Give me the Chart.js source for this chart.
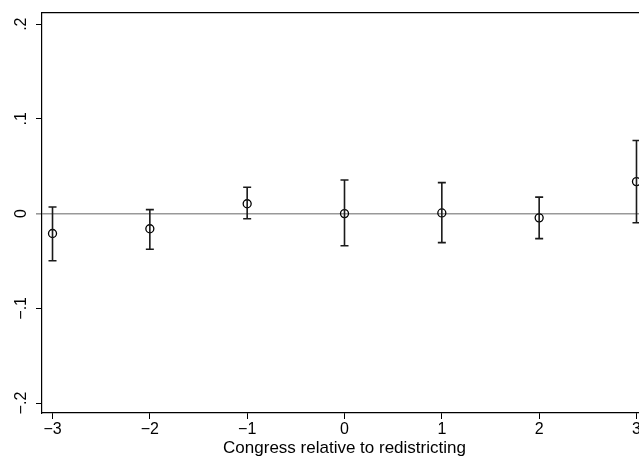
<!DOCTYPE html>
<html>
<head>
<meta charset="utf-8">
<script src="https://cdn.jsdelivr.net/npm/chart.js@4/dist/chart.umd.min.js"></script>
<style>
  html, body { margin: 0; padding: 0; background: #fff; overflow: hidden; }
  #wrap { width: 660px; height: 462px; }
</style>
</head>
<body>
<div id="wrap"><canvas id="chart" width="660" height="462"></canvas></div>
<script>
// --- values ---
const congress = [-3, -2, -1, 0, 1, 2, 3];
const estimate = [-0.021, -0.016, 0.0104, 0.000, 0.0007, -0.0045, 0.0338];
const lower    = [-0.0497, -0.0376, -0.0055, -0.034, -0.0306, -0.0264, -0.0097];
const upper    = [0.007, 0.0042, 0.0279, 0.0355, 0.0327, 0.0174, 0.0772];

const xTicks = [-3, -2, -1, 0, 1, 2, 3];
const xTickLabels = ["\u22123", "\u22122", "\u22121", "0", "1", "2", "3"];
const yTicks = [-0.2, -0.1, 0, 0.1, 0.2];
const yTickLabels = ["\u2212.2", "\u2212.1", "0", ".1", ".2"];

const tickFont = { family: "'Liberation Sans', Arial, sans-serif", size: 16 };
const titleFont = { family: "'Liberation Sans', Arial, sans-serif", size: 17 };

// one little line dataset per error bar, caps drawn as 'line' points
const barSets = congress.map((c, i) => ({
  type: "scatter",
  data: [{ x: c, y: lower[i] }, { x: c, y: upper[i] }],
  showLine: true,
  borderColor: "#1a1a1a",
  borderWidth: 1.6,
  pointStyle: "line",
  pointRadius: 4,
  pointBorderWidth: 1.6,
  pointBorderColor: "#1a1a1a"
}));

const pointSet = {
  type: "scatter",
  data: congress.map((c, i) => ({ x: c, y: estimate[i] })),
  pointStyle: "circle",
  pointRadius: 4,
  pointBorderWidth: 1.3,
  pointBorderColor: "#000",
  pointBackgroundColor: "rgba(0,0,0,0)"
};

new Chart(document.getElementById("chart"), {
  type: "scatter",
  data: { datasets: [...barSets, pointSet] },
  options: {
    responsive: false,
    animation: false,
    layout: { padding: { left: 0, top: 7, right: 13, bottom: 0 } },
    plugins: { legend: { display: false }, tooltip: { enabled: false } },
    scales: {
      x: {
        type: "linear",
        position: "bottom",
        min: -3.108,
        max: 3.108,
        afterBuildTicks: s => { s.ticks = xTicks.map(v => ({ value: v })); },
        afterFit: s => { s.height = 49; },
        border: { display: true, color: "#000", width: 1.2 },
        grid: { drawOnChartArea: false, drawTicks: true, tickLength: 6, tickColor: "#000", tickWidth: 1 },
        ticks: {
          color: "#000",
          font: tickFont,
          padding: 1,
          maxRotation: 0,
          callback: (v) => xTickLabels[xTicks.indexOf(v)]
        },
        title: {
          display: true,
          text: "Congress relative to redistricting",
          color: "#000",
          font: titleFont,
          padding: { top: 0, bottom: 3 }
        }
      },
      top: {
        type: "linear",
        position: "top",
        min: -3.108,
        max: 3.108,
        afterFit: s => { s.height = 0; },
        border: { display: true, color: "#000", width: 1.2 },
        grid: { display: false, drawTicks: false },
        ticks: { display: false }
      },
      y: {
        type: "linear",
        position: "left",
        min: -0.2105,
        max: 0.2122,
        afterBuildTicks: s => { s.ticks = yTicks.map(v => ({ value: v })); },
        afterFit: s => { s.width = 42; },
        border: { display: true, color: "#000", width: 1.2 },
        grid: {
          drawOnChartArea: true,
          drawTicks: true,
          tickLength: 6,
          color: c => (c.tick && c.tick.value === 0 ? "#999" : "rgba(0,0,0,0)"),
          lineWidth: c => (c.tick && c.tick.value === 0 ? 1.6 : 1),
          tickColor: c => (c.tick && c.tick.value === 0 ? "#999" : "#000"),
          tickWidth: c => (c.tick && c.tick.value === 0 ? 1.6 : 1)
        },
        ticks: {
          color: "#000",
          font: tickFont,
          padding: 3,
          minRotation: 90,
          maxRotation: 90,
          crossAlign: "center",
          callback: (v) => yTickLabels[yTicks.indexOf(v)]
        }
      }
    }
  }
});
</script>
</body>
</html>
